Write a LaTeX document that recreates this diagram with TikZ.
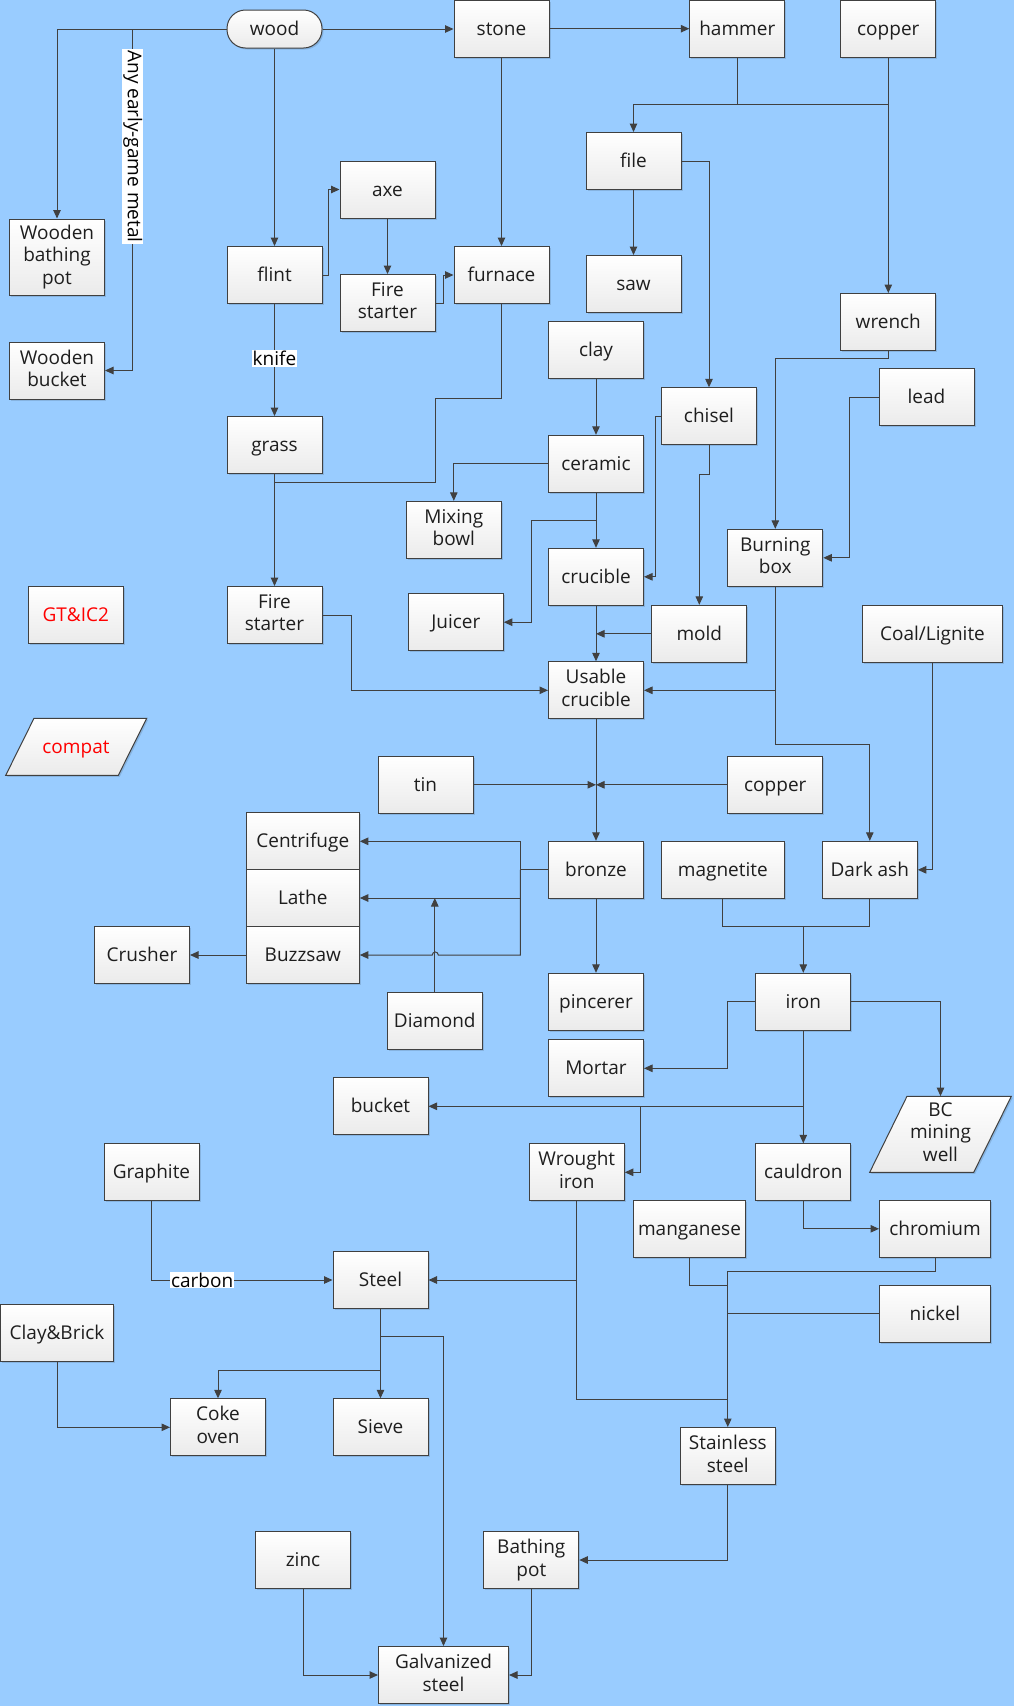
\documentclass[tikz,border=0pt]{standalone}
\usepackage{fontspec}
\setmainfont{Open Sans}
\usetikzlibrary{arrows.meta,shadows}
\definecolor{bg}{HTML}{99CCFF}
\definecolor{edge}{HTML}{404040}
\definecolor{txt}{HTML}{1E1E1E}
\newcommand{\bfnt}{\fontsize{19}{22.5}\selectfont}
\newcommand{\tstrut}{\rule[-4.75pt]{0pt}{22.5pt}}
\newcommand{\nl}{\\\tstrut}
\begin{document}
\begin{tikzpicture}[x=1pt,y=-1pt,
  txtfix/.style={execute at begin node=\tstrut},
  box/.style={draw=edge, line width=1pt, top color=white, bottom color=black!8,
    minimum width=95pt, minimum height=57pt, inner sep=1pt, align=center,
    text=txt, font=\bfnt, txtfix,
    drop shadow={shadow xshift=1.5pt, shadow yshift=-1.5pt, fill=black, opacity=0.12}},
  pshape/.style={draw=edge, line width=1pt, top color=white, bottom color=black!8,
    drop shadow={shadow xshift=1.5pt, shadow yshift=-1.5pt, fill=black, opacity=0.12}},
  conn/.style={draw=edge, line width=1pt},
  arr/.style={conn, -{Triangle[length=8.5pt,width=7.5pt]}},
  lbl/.style={fill=white, inner sep=1pt, text=black, font=\bfnt},
]
\useasboundingbox (0,0) rectangle (1014,1706);
\fill[bg] (0,0) rectangle (1014,1706);

% ---------- nodes ----------
\node[box, rounded corners=18.5pt, minimum height=38pt] (wood) at (274.5,29) {wood};
\node[box] (stone) at (501.5,28.7) {stone};
\node[box] (hammer) at (737.3,28.7) {hammer};
\node[box] (copperA) at (888.3,28.7) {copper};
\node[box, minimum height=76pt] (wpot) at (57,257) {Wooden\nl bathing\nl pot};
\node[box] (wbucket) at (57,370.5) {Wooden\nl bucket};
\node[box] (flint) at (274.5,275) {flint};
\node[box] (axe) at (387.5,189.5) {axe};
\node[box] (fireA) at (387.5,303) {Fire\nl starter};
\node[box] (furnace) at (501.5,275) {furnace};
\node[box] (file) at (633.5,161) {file};
\node[box] (saw) at (633.5,284) {saw};
\node[box] (wrench) at (888.3,322) {wrench};
\node[box] (clay) at (596,350) {clay};
\node[box] (chisel) at (709,416.3) {chisel};
\node[box] (lead) at (926.5,397.3) {lead};
\node[box] (grass) at (274.5,445) {grass};
\node[box] (ceramic) at (596,463.8) {ceramic};
\node[box] (mixing) at (453.8,529.8) {Mixing\nl bowl};
\node[box] (crucible) at (596,576.8) {crucible};
\node[box] (burning) at (775.3,557.8) {Burning\nl box};
\node[box, text=red] (gt) at (75.8,615) {GT\&IC2};
\node[box] (fireB) at (274.5,615) {Fire\nl starter};
\node[box] (juicer) at (455.8,622.2) {Juicer};
\node[box] (mold) at (699.3,633.8) {mold};
\node[box, minimum width=140pt] (coal) at (932.5,633.8) {Coal/Lignite};
\node[box] (usable) at (596,690.3) {Usable\nl crucible};
\path[pshape] (34,718.3) -- (146.7,718.3) -- (118.3,775.3) -- (5.7,775.3) -- cycle;
\node[font=\bfnt, text=red, txtfix, minimum width=113pt, minimum height=57pt] (compat) at (76,746.8) {compat};
\node[box] (tin) at (425.5,784.8) {tin};
\node[box] (copperB) at (775.3,784.8) {copper};
\node[box, minimum width=113pt] (centrifuge) at (302.8,841.3) {Centrifuge};
\node[box, minimum width=113pt] (lathe) at (302.8,898) {Lathe};
\node[box, minimum width=113pt] (buzzsaw) at (302.8,955) {Buzzsaw};
\node[box] (crusher) at (142,954.8) {Crusher};
\node[box] (bronze) at (596,869.8) {bronze};
\node[box, minimum width=123pt] (magnetite) at (722.8,869.8) {magnetite};
\node[box] (darkash) at (869.8,869.8) {Dark ash};
\node[box] (diamond) at (434.8,1020.8) {Diamond};
\node[box] (pincerer) at (596,1001.8) {pincerer};
\node[box] (iron) at (803.3,1001.8) {iron};
\node[box] (mortar) at (596,1068.3) {Mortar};
\node[box] (bucket) at (380.5,1105.8) {bucket};
\path[pshape] (907,1096.3) -- (1011.3,1096.3) -- (973.7,1172.3) -- (869.7,1172.3) -- cycle;
\node[font=\bfnt, text=txt, align=center, txtfix, minimum height=76pt, inner sep=0pt] (bc) at (940.5,1134.3) {BC\nl mining\nl well};
\node[box] (graphite) at (151.5,1172.3) {Graphite};
\node[box] (wrought) at (576.8,1172.3) {Wrought\nl iron};
\node[box] (cauldron) at (803.3,1172.3) {cauldron};
\node[box, minimum width=112pt] (manganese) at (689.5,1228.8) {manganese};
\node[box, minimum width=111pt] (chromium) at (935,1228.8) {chromium};
\node[box] (steel) at (380.5,1280) {Steel};
\node[box, minimum width=111pt] (nickel) at (935,1313.8) {nickel};
\node[box, minimum width=113pt] (claybrick) at (57,1332.8) {Clay\&Brick};
\node[box] (coke) at (218,1427.3) {Coke\nl oven};
\node[box] (sieve) at (380.5,1427.3) {Sieve};
\node[box] (stainless) at (727.8,1456) {Stainless\nl steel};
\node[box] (zinc) at (303,1560) {zinc};
\node[box] (bathing) at (531.3,1560) {Bathing\nl pot};
\node[box, minimum width=130pt] (galv) at (443.5,1675) {Galvanized\nl steel};

% ---------- connectors ----------
\draw[arr] (wood.west) -| (wpot.north);
\coordinate (jm) at (132.7,29);
\draw[arr] (jm) -- node[lbl, rotate=-90, pos=0.344]{Any early-game metal} (jm |- wbucket.east) -- (wbucket.east);
\draw[arr] (wood.south) -- (flint.north);
\draw[arr] (wood.east) -- (wood.east -| stone.west);
\draw[arr] (stone.east) -- (hammer.west);
\draw[arr] (flint.east) -- ++(6.3,0) |- (axe.west);
\draw[arr] (axe.south) -- (fireA.north);
\draw[arr] (fireA.east) -- ++(7.7,0) |- (furnace.west);
\draw[arr] (stone.south) -- (furnace.north);
\draw[arr] (flint.south) -- node[lbl, pos=0.485]{knife} (grass.north);
\coordinate (jg) at (274.5,482.3);
\draw[conn] (furnace.south) |- (435.3,398.3) |- (jg);
\draw[arr] (grass.south) -- (fireB.north);
\coordinate (jh) at (633.5,104.3);
\draw[conn] (hammer.south) -- (hammer.south |- jh);
\draw[arr] (copperA.south) -- (wrench.north);
\draw[arr] (copperA.south |- jh) -- (jh) -- (file.north);
\draw[arr] (file.east) -| (chisel.north);
\draw[arr] (file.south) -- (saw.north);
\draw[arr] (clay.south) -- (ceramic.north);
\draw[arr] (ceramic.west) -| (mixing.north);
\draw[arr] (ceramic.south) -- (crucible.north);
\coordinate (jc) at (596,520);
\draw[arr] (jc) -- (531.3,520) |- (juicer.east);
\draw[arr] (chisel.west) -- ++(-6,0) |- (crucible.east);
\draw[arr] (chisel.south) -- ++(0,29) -| (mold.north);
\draw[arr] (wrench.south) -- ++(0,7) -| (burning.north);
\draw[arr] (lead.west) -- ++(-29,0) |- (burning.east);
\draw[arr] (crucible.south) -- (usable.north);
\draw[arr] (mold.west) -- (mold.west -| usable.north);
\draw[arr] (burning.south) |- (usable.east);
\draw[arr] (burning.south |- usable.east) -- (775.3,744) -| (darkash.north);
\draw[arr] (fireB.east) -- ++(28.6,0) |- (usable.west);
\draw[arr] (coal.south) |- (darkash.east);
\draw[arr] (usable.south) -- (bronze.north);
\draw[arr] (tin.east) -- (tin.east -| usable.south);
\draw[arr] (copperB.west) -- (copperB.west -| usable.south);
\coordinate (jb) at (520.3,869.8);
\draw[conn] (bronze.west) -- (jb);
\draw[arr] (jb) |- (centrifuge.east);
\draw[arr] (jb) |- (lathe.east);
\draw[arr] (jb) |- (438.3,955) arc[start angle=0, end angle=180, radius=3pt] -- (buzzsaw.east);
\draw[arr] (diamond.north) -- (diamond.north |- lathe.east);
\draw[arr] (buzzsaw.west) -- (buzzsaw.west -| crusher.east);
\draw[arr] (bronze.south) -- (pincerer.north);
\coordinate (ji) at (803.3,926.3);
\draw[conn] (magnetite.south) |- (ji) -| (darkash.south);
\draw[arr] (ji) -- (iron.north);
\draw[arr] (iron.west) -- ++(-28,0) |- (mortar.east);
\draw[arr] (iron.east) -| (bc.north);
\draw[arr] (iron.south) -- (cauldron.north);
\coordinate (jk) at (803.3,1106.3);
\draw[arr] (jk) -- (jk -| bucket.east);
\coordinate (jw) at (640.7,1106.3);
\draw[arr] (jw) |- (wrought.east);
\draw[arr] (cauldron.south) |- (chromium.west);
\draw[arr] (chromium.south) -- ++(0,14) -| (stainless.north);
\draw[conn] (manganese.south) |- (727.8,1285.3);
\draw[conn] (nickel.west) -- (nickel.west -| stainless.north);
\draw[conn] (wrought.south) |- (727.8,1399.3);
\draw[arr] (wrought.south |- steel.east) -- (steel.east);
\draw[arr] (graphite.south) |- node[lbl, pos=0.64]{carbon} (steel.west);
\coordinate (js1) at (380.5,1336.7);
\coordinate (js2) at (380.5,1370.3);
\draw[arr] (steel.south) -- (sieve.north);
\draw[arr] (js1) -| (galv.north);
\draw[arr] (js2) -| (coke.north);
\draw[arr] (claybrick.south) |- (coke.west);
\draw[arr] (stainless.south) |- (bathing.east);
\draw[arr] (bathing.south) |- (galv.east);
\draw[arr] (zinc.south) |- (galv.west);
\end{tikzpicture}
\end{document}
